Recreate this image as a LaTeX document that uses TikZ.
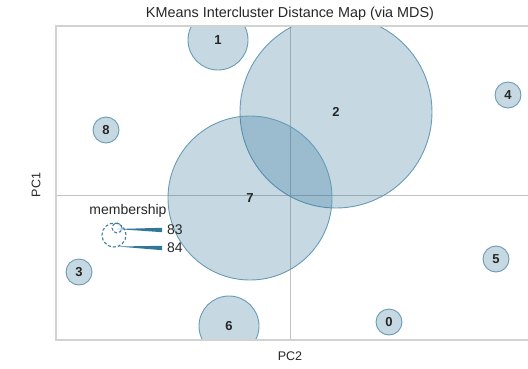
\documentclass[tikz,border=0pt]{standalone}
\usepackage{fontspec}
\setmainfont{Liberation Sans}
\usetikzlibrary{calc}
\definecolor{clusterblue}{RGB}{27,103,143}
\definecolor{clusteredge}{RGB}{105,155,180}
\definecolor{framegray}{RGB}{210,210,210}
\definecolor{axisgray}{RGB}{195,195,195}
\tikzset{
  cluster/.style={circle,draw=clusteredge,line width=0.9pt,fill=clusterblue,fill opacity=0.25,text opacity=1,inner sep=0pt,text=black!85,font=\bfseries\fontsize{13}{13}\selectfont},
  legendring/.style={draw=clusterblue!85,dashed,dash pattern=on 3pt off 2pt,line width=1.1pt},
  wedge/.style={fill=clusterblue!90,draw=none},
  plaintext/.style={text=black!85,inner sep=0pt,font=\fontsize{14}{14}\selectfont}
}
\begin{document}
\begin{tikzpicture}[x=1pt,y=-1pt]
  \useasboundingbox (0,0) rectangle (528,368);
  \node[plaintext,font=\fontsize{14.4}{14.4}\selectfont] (title) at (290,14) {KMeans Intercluster Distance Map (via MDS)};
  % center lines
  \draw[axisgray,line width=1pt] (290,26) -- (290,340);
  \draw[axisgray,line width=1pt] (56,195) -- (528,195);
  % clusters
  \begin{scope}
    \clip (56,26) rectangle (530,340);
    \node[cluster,minimum size=26pt] (c0) at (389,322) {0};
    \node[cluster,minimum size=60pt] (c1) at (218,40) {1};
    \node[cluster,minimum size=192pt] (c2) at (336,112) {2};
    \node[cluster,minimum size=26pt] (c3) at (79,272) {3};
    \node[cluster,minimum size=26pt] (c4) at (508,95) {4};
    \node[cluster,minimum size=26pt] (c5) at (496,259) {5};
    \node[cluster,minimum size=60pt] (c6) at (229,326) {6};
    \node[cluster,minimum size=164pt] (c7) at (250,198) {7};
    \node[cluster,minimum size=26pt] (c8) at (106,130) {8};
  \end{scope}
  % frame
  \draw[framegray,line width=1.2pt] (528,26) -- (56,26) -- (56,340) -- (528,340);
  % legend
  \node[plaintext] (memb) at (128,211) {membership};
  \draw[legendring] (114,235) circle (12pt);
  \draw[legendring] (117,228) circle (5pt);
  \coordinate (tipA) at (117,229);
  \coordinate (tipB) at (118,246.5);
  \node[plaintext,anchor=west] (n83) at (167,230) {83};
  \node[plaintext,anchor=west] (n84) at (167,248) {84};
  \fill[wedge] (tipA) -- ($(n83.west)+(-5,-2.2)$) -- ($(n83.west)+(-5,2.2)$) -- cycle;
  \fill[wedge] (tipB) -- ($(n84.west)+(-5,-2.2)$) -- ($(n84.west)+(-5,2.2)$) -- cycle;
  % axis labels
  \node[plaintext,font=\fontsize{12.5}{12.5}\selectfont] (pc2) at (290,356) {PC2};
  \node[plaintext,font=\fontsize{12.5}{12.5}\selectfont,rotate=90] (pc1) at (36,185) {PC1};
\end{tikzpicture}
\end{document}
